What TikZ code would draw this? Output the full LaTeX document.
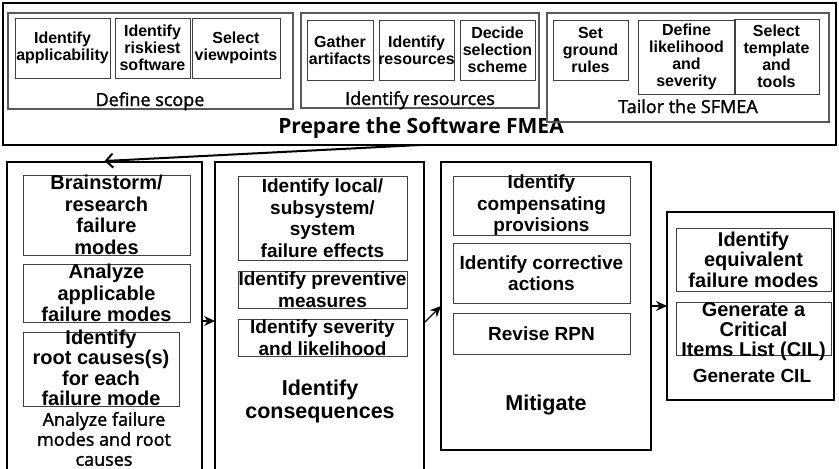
\documentclass[tikz,border=0pt]{standalone}
\usepackage{fontspec}
\setmainfont{Liberation Sans}
\newfontfamily\osans{Open Sans}[FakeBold=1.6]
\newfontfamily\osansb{Open Sans}
\usetikzlibrary{arrows.meta}
\tikzset{
  frame/.style={draw=black!75, line width=1pt, anchor=north west, inner sep=0pt, outer sep=0pt},
  grp/.style={draw=black!65, line width=1.3pt, anchor=north west, inner sep=0pt, outer sep=0pt},
  outerbox/.style={draw=black, line width=1.1pt, anchor=north west, inner sep=0pt, outer sep=0pt},
  ttop/.style={font=\bfseries\fontsize{16}{17}\selectfont, align=center, inner sep=0pt},
  tbot/.style={font=\bfseries\fontsize{19}{21.5}\selectfont, align=center, inner sep=0pt},
  tbig/.style={font=\bfseries\fontsize{21.5}{23}\selectfont, align=center, inner sep=0pt},
  glab/.style={font=\osans\fontsize{18}{20}\selectfont, inner sep=0pt, anchor=base},
  glabb/.style={font=\osans\fontsize{18}{20}\selectfont, align=center, inner sep=0pt},
  bigarrow/.style={line width=2pt, -{Straight Barb[length=7pt,width=14pt,line width=2pt]}},
  smallarrow/.style={line width=1.2pt, -{Stealth[length=11pt,width=10pt]}},
}
\newcommand\bx[6][frame]{\node[#1, minimum width=#5pt, minimum height=#6pt] (#2) at (#3,#4) {};}
\begin{document}
\begin{tikzpicture}[x=1pt,y=-1pt]
\useasboundingbox (0,0) rectangle (839,469);
\clip (0,0) rectangle (839,469);

% ---------- top: Prepare the Software FMEA ----------
\bx[outerbox]{T}{3}{3}{833}{142}
\node[font=\osansb\bfseries\fontsize{21}{23}\selectfont, inner sep=0pt, anchor=base] (title) at (421,133) {Prepare the Software FMEA};

% Define scope
\bx[grp]{G1}{8}{13}{285}{96}
\bx{ta1}{15}{18}{95}{60}
\bx{ta2}{115}{18}{75}{60}
\bx{ta3}{192}{18}{88}{60}
\node[ttop] (ta1t) at (ta1) {Identify\\applicability};
\node[ttop] (ta2t) at (ta2) {Identify\\riskiest\\software};
\node[ttop] (ta3t) at (ta3) {Select\\viewpoints};
\node[glab] (g1l) at (150,106) {Define scope};

% Identify resources
\bx[grp]{G2}{301}{13}{238}{95}
\bx{tb1}{307}{20}{66}{60}
\bx{tb2}{379}{20}{75}{60}
\bx{tb3}{460}{20}{75}{60}
\node[ttop] (tb1t) at (tb1) {Gather\\artifacts};
\node[ttop] (tb2t) at (tb2) {Identify\\resources};
\node[ttop] (tb3t) at (tb3) {Decide\\selection\\scheme};
\node[glab] (g2l) at (420,105) {Identify resources};

% Tailor the SFMEA
\bx[grp]{G3}{547}{13}{282}{109}
\bx{tc1}{553}{20}{75}{60}
\bx{tc2}{638}{20}{97}{74}
\bx{tc3}{734}{19}{85}{75}
\node[ttop] (tc1t) at (tc1) {Set\\ground\\rules};
\node[ttop] (tc2t) at (tc2) {Define\\likelihood\\and\\severity};
\node[ttop] (tc3t) at (tc3) {Select\\template\\and\\tools};
\node[glab] (g3l) at (688,113) {Tailor the SFMEA};

% ---------- bottom: Analyze failure modes and root causes ----------
\bx[outerbox]{B1}{7}{162}{195}{330}
\bx{b11}{23}{175}{167}{80}
\bx{b12}{23}{264}{167}{58}
\bx{b13}{23}{332}{156}{74}
\node[tbot, font=\bfseries\fontsize{20}{21.5}\selectfont] (b11t) at (b11) {Brainstorm/\\research\\failure\\modes};
\node[tbot, font=\bfseries\fontsize{20}{21.5}\selectfont] (b12t) at (b12) {Analyze\\applicable\\failure modes};
\node[tbot, font=\bfseries\fontsize{20}{20.5}\selectfont] (b13t) at ([yshift=1pt]b13.center) {Identify\\root causes(s)\\for each\\failure mode};
\node[glabb] (b1l) at (104,439) {Analyze failure\\modes and root\\causes};

% Identify consequences
\bx[outerbox]{B2}{215}{162}{209}{330}
\bx{b21}{238}{176}{169}{84}
\bx{b22}{238}{271}{169}{37}
\bx{b23}{238}{319}{169}{37}
\node[tbot] (b21t) at (b21) {Identify local/\\subsystem/\\system\\failure effects};
\node[tbot] (b22t) at (b22) {Identify preventive\\measures};
\node[tbot] (b23t) at (b23) {Identify severity\\and likelihood};
\node[tbig] (b2l) at (320,401) {Identify\\consequences};

% Mitigate
\bx[outerbox]{B3}{441}{162}{210}{288}
\bx{b31}{453}{176}{177}{59}
\bx{b32}{453}{243}{177}{60}
\bx{b33}{453}{313}{177}{41}
\node[tbot] (b31t) at (b31) {Identify\\compensating\\provisions};
\node[tbot] (b32t) at (b32) {Identify corrective\\actions};
\node[tbot] (b33t) at (b33) {Revise RPN};
\node[tbig] (b3l) at (546,405) {Mitigate};

% Generate CIL
\bx[outerbox]{B4}{667}{212}{167}{188}
\bx{b41}{676}{228}{155}{63}
\bx{b42}{676}{302}{155}{53}
\node[tbot, font=\bfseries\fontsize{20}{20.5}\selectfont] (b41t) at (b41) {Identify\\equivalent\\failure modes};
\node[tbot, font=\bfseries\fontsize{20}{20}\selectfont] (b42t) at ([yshift=-3pt]b42.center) {Generate a\\Critical\\Items List (CIL)};
\node[tbot] (b4l) at (752,376) {Generate CIL};

% ---------- connectors ----------
\draw[bigarrow] ([xshift=0.5pt]T.south) -- ([yshift=1pt]B1.north);
\draw[smallarrow] ([yshift=6pt]B1.east) -- ([yshift=6pt]B2.west);
\draw[smallarrow] ([yshift=4pt]B2.east) -- (B3.west);
\draw[smallarrow] (B3.east) -- (B4.west);
\end{tikzpicture}
\end{document}
